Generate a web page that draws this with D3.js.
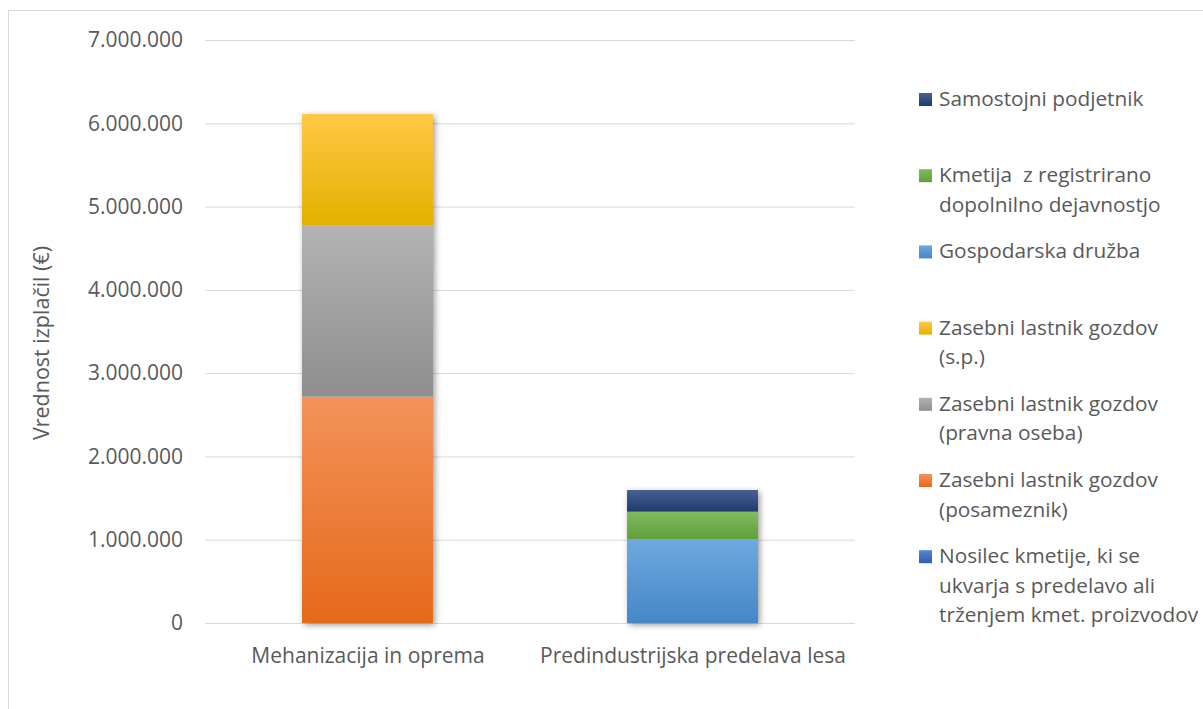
<!DOCTYPE html>
<html><head><meta charset="utf-8">
<script src="https://cdn.jsdelivr.net/npm/d3@7"></script>
<style>body{margin:0;background:#fff}svg{display:block}text{font-family:"Open Sans","Liberation Sans",sans-serif;fill:#595959;white-space:pre}</style>
</head><body><svg id="c" width="1203" height="709"></svg>
<script>
const categories = ["Mehanizacija in oprema", "Predindustrijska predelava lesa"];
// series in stacking order (bottom to top)
const seriesNames = [
  "Nosilec kmetije, ki se ukvarja s predelavo ali trženjem kmet. proizvodov",
  "Zasebni lastnik gozdov (posameznik)",
  "Zasebni lastnik gozdov (pravna oseba)",
  "Zasebni lastnik gozdov (s.p.)",
  "Gospodarska družba",
  "Kmetija  z registrirano dopolnilno dejavnostjo",
  "Samostojni podjetnik"
];
const legendLines = [
  ["Nosilec kmetije, ki se", "ukvarja s predelavo ali", "trženjem kmet. proizvodov"],
  ["Zasebni lastnik gozdov", "(posameznik)"],
  ["Zasebni lastnik gozdov", "(pravna oseba)"],
  ["Zasebni lastnik gozdov", "(s.p.)"],
  ["Gospodarska družba"],
  ["Kmetija  z registrirano", "dopolnilno dejavnostjo"],
  ["Samostojni podjetnik"]
];
const nosilecValues     = [0, 0];
const posameznikValues  = [2717000, 0];
const pravnaValues      = [2061000, 0];
const spValues          = [1333000, 0];
const druzbaValues      = [0, 1008000];
const kmetijaValues     = [0, 328000];
const podjetnikValues   = [0, 261000];
const seriesValues = [nosilecValues, posameznikValues, pravnaValues, spValues, druzbaValues, kmetijaValues, podjetnikValues];
const yTicks = [0, 1000000, 2000000, 3000000, 4000000, 5000000, 6000000, 7000000];
const yTitle = "Vrednost izplačil (€)";
const colorsTop    = ["#5585d4", "#f4925a", "#b3b3b3", "#ffc845", "#6ea8de", "#80bb5d", "#4a6090"];
const colorsBottom = ["#2f5cb0", "#e5691a", "#8e8e8e", "#e4b000", "#4487c9", "#60a03a", "#1d3a72"];

const svg = d3.select("#c");
const defs = svg.append("defs");
colorsTop.forEach((c, i) => {
  const g = defs.append("linearGradient").attr("id", "g" + i).attr("x1", 0).attr("y1", 0).attr("x2", 0).attr("y2", 1);
  g.append("stop").attr("offset", "0%").attr("stop-color", c);
  g.append("stop").attr("offset", "100%").attr("stop-color", colorsBottom[i]);
});
const f = defs.append("filter").attr("id", "sh").attr("x", "-20%").attr("y", "-20%").attr("width", "140%").attr("height", "140%");
f.append("feGaussianBlur").attr("in", "SourceAlpha").attr("stdDeviation", 3).attr("result", "b");
f.append("feOffset").attr("in", "b").attr("dx", 1.5).attr("dy", 1.5).attr("result", "o");
f.append("feComponentTransfer").attr("in", "o").attr("result", "t").append("feFuncA").attr("type", "linear").attr("slope", 0.4);
const m = f.append("feMerge"); m.append("feMergeNode").attr("in", "t"); m.append("feMergeNode").attr("in", "SourceGraphic");

// chart border
svg.append("rect").attr("x", 8.5).attr("y", 10.5).attr("width", 1300).attr("height", 800)
  .attr("fill", "none").attr("stroke", "#d9d9d9").attr("stroke-width", 1);

const pLeft = 205, pRight = 855, pTop = 40, pBottom = 623;
const FS = 21;
const y = d3.scaleLinear().domain([0, 7000000]).range([pBottom, pTop]);
const x = d3.scalePoint().domain(categories).range([pLeft, pRight]).padding(0.5);
const barW = x.step() * 0.403;

const fmt = v => d3.format(",")(v).replace(/,/g, ".");
const yAxis = d3.axisLeft(y).tickValues(yTicks).tickFormat(fmt).tickSize(-(pRight - pLeft)).tickPadding(22);
const ga = svg.append("g").attr("transform", `translate(${pLeft},0)`).call(yAxis);
ga.select(".domain").remove();
ga.selectAll(".tick line").attr("stroke", "#d9d9d9").attr("stroke-width", 1);
ga.selectAll(".tick text").attr("font-size", FS).style("fill", "#595959");

// x labels
const xAxis = d3.axisBottom(x).tickSize(0).tickPadding(25);
const gx = svg.append("g").attr("transform", `translate(0,${pBottom})`).call(xAxis);
gx.select(".domain").remove();
gx.selectAll(".tick text").attr("font-size", FS).style("fill", "#595959");
svg.selectAll("g").attr("font-family", null).attr("font-size", null);

// stacked bars
const table = categories.map((c, j) => {
  const o = { cat: c };
  seriesNames.forEach((s, i) => o[s] = seriesValues[i][j]);
  return o;
});
const stack = d3.stack().keys(seriesNames)(table);
categories.forEach((c, j) => {
  const total = d3.sum(seriesValues, s => s[j]);
  svg.append("rect").attr("x", x(c) - barW / 2).attr("width", barW)
    .attr("y", y(total)).attr("height", y(0) - y(total)).attr("fill", "#fff").attr("filter", "url(#sh)");
});
stack.forEach((layer, i) => {
  svg.append("g").selectAll("rect").data(layer.filter(d => d[1] > d[0])).join("rect")
    .attr("x", d => x(d.data.cat) - barW / 2).attr("width", barW)
    .attr("y", d => y(d[1])).attr("height", d => y(d[0]) - y(d[1]))
    .attr("fill", `url(#g${i})`);
});

// y title
svg.append("text").attr("transform", "translate(49,343) rotate(-90)").attr("text-anchor", "middle")
  .attr("font-size", 21.5).text(yTitle);

// legend (reversed order)
const lg = svg.append("g");
const order = d3.range(seriesNames.length).reverse();
order.forEach((si, k) => {
  const base = 106 + k * 76.2;
  lg.append("rect").attr("x", 919).attr("y", base - 13).attr("width", 13).attr("height", 13).attr("fill", `url(#g${si})`);
  const t = lg.append("text").attr("x", 939).attr("y", base).attr("font-size", 20.8);
  legendLines[si].forEach((ln, li) => t.append("tspan").attr("x", 939).attr("dy", li ? 29.5 : 0).text(ln));
});
</script></body></html>
